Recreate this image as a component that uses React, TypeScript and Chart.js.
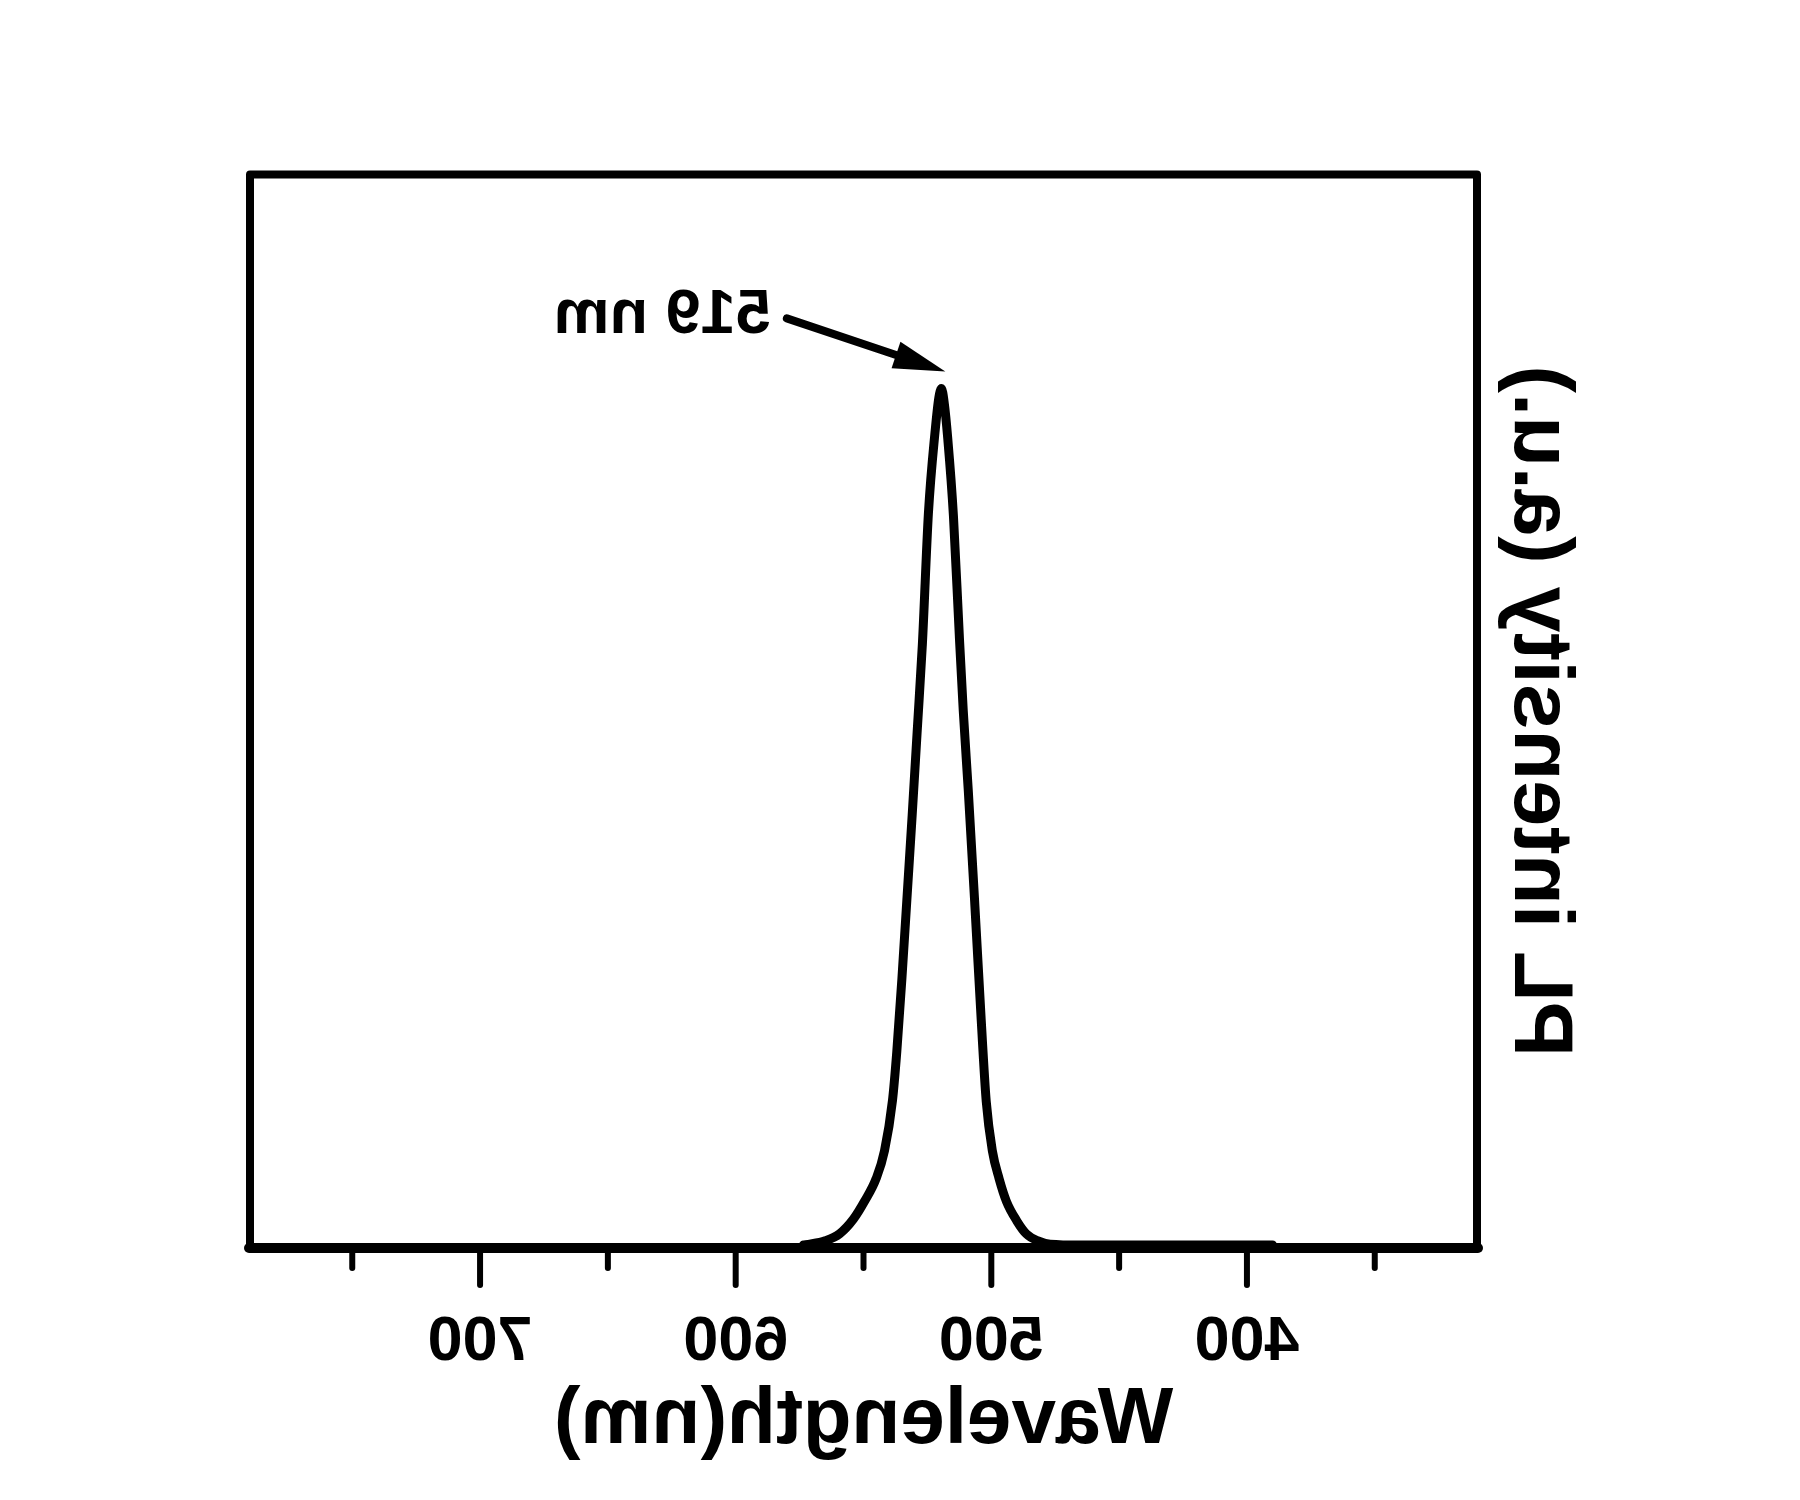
import React, { useEffect, useRef } from "react";
import { Chart, registerables } from "chart.js";

Chart.register(...registerables);

// Spectrum (wavelength in nm, normalised PL intensity)
const wavelengths = [390, 410, 430, 450, 465, 477, 482, 486.3, 490, 494.1, 497, 499.6, 502, 504, 506.5, 509, 511, 512.5, 514.8, 517, 518.5, 519.5, 520.5, 522, 524.6, 527, 529, 531, 533, 535, 537, 538.7, 541.8, 545, 549.6, 554, 559.4, 565, 571, 573.5];
const intensities = [0, 0, 0, 0, 0, 0.001, 0.005, 0.013, 0.028, 0.051, 0.078, 0.11, 0.168, 0.265, 0.4, 0.53, 0.625, 0.71, 0.85, 0.94, 0.985, 1.0, 0.99, 0.95, 0.855, 0.7, 0.6, 0.5, 0.405, 0.31, 0.225, 0.168, 0.11, 0.078, 0.051, 0.03, 0.013, 0.005, 0.001, 0];

const xRange = [310, 790];
const yRange = [-0.0035, 1.25];
const majorTicks = [400, 500, 600, 700];
const minorTicks = [350, 450, 550, 650, 750];

const xTitle = "Wavelength(nm)";
const yTitle = "PL intensity (a.u.)";

const peakLabel = "519 nm";
const peakLabelAt = [628.7, 1.065];
const arrowFrom = [580, 1.082];
const arrowTo = [518, 1.02];

const FONT = '"Liberation Sans", Arial, Helvetica, sans-serif';

const framePlugin = {
  id: "frameAndNotes",
  afterDatasetsDraw(chart: any) {
    const { ctx, chartArea: a, scales } = chart;
    const xs = scales.x;
    const ys = scales.y;
    ctx.save();
    ctx.strokeStyle = "#000";
    ctx.fillStyle = "#000";

    // frame
    ctx.lineWidth = 8;
    ctx.lineJoin = "round";
    ctx.beginPath();
    ctx.moveTo(a.left, a.bottom);
    ctx.lineTo(a.left, a.top);
    ctx.lineTo(a.right, a.top);
    ctx.lineTo(a.right, a.bottom);
    ctx.stroke();
    ctx.lineWidth = 10;
    ctx.lineCap = "round";
    ctx.beginPath();
    ctx.moveTo(a.left - 1, a.bottom);
    ctx.lineTo(a.right + 1, a.bottom);
    ctx.stroke();

    // ticks
    ctx.lineWidth = 6;
    ctx.lineCap = "round";
    majorTicks.forEach((v) => {
      const px = xs.getPixelForValue(v);
      ctx.beginPath();
      ctx.moveTo(px, a.bottom + 4);
      ctx.lineTo(px, a.bottom + 37);
      ctx.stroke();
    });
    minorTicks.forEach((v) => {
      const px = xs.getPixelForValue(v);
      ctx.beginPath();
      ctx.moveTo(px, a.bottom + 4);
      ctx.lineTo(px, a.bottom + 20);
      ctx.stroke();
    });

    // annotation text
    ctx.font = `bold 63px ${FONT}`;
    ctx.textAlign = "center";
    ctx.textBaseline = "alphabetic";
    ctx.fillText(peakLabel, xs.getPixelForValue(peakLabelAt[0]), ys.getPixelForValue(peakLabelAt[1]));

    // arrow
    const x0 = xs.getPixelForValue(arrowFrom[0]);
    const y0 = ys.getPixelForValue(arrowFrom[1]);
    const x1 = xs.getPixelForValue(arrowTo[0]);
    const y1 = ys.getPixelForValue(arrowTo[1]);
    const dx = x1 - x0;
    const dy = y1 - y0;
    const len = Math.hypot(dx, dy);
    const ux = dx / len;
    const uy = dy / len;
    const headLen = 52;
    const headHalf = 14;
    const bx = x1 - ux * headLen;
    const by = y1 - uy * headLen;
    ctx.lineWidth = 8;
    ctx.lineCap = "round";
    ctx.beginPath();
    ctx.moveTo(x0, y0);
    ctx.lineTo(bx + ux * 4, by + uy * 4);
    ctx.stroke();
    ctx.beginPath();
    ctx.moveTo(x1, y1);
    ctx.lineTo(bx - uy * headHalf, by + ux * headHalf);
    ctx.lineTo(bx + uy * headHalf, by - ux * headHalf);
    ctx.closePath();
    ctx.fill();

    ctx.restore();
  },
};

export default function App() {
  const ref = useRef<HTMLCanvasElement | null>(null);

  useEffect(() => {
    if (!ref.current) return;
    const data = wavelengths.map((w, i) => ({ x: w, y: intensities[i] }));
    const chart = new Chart(ref.current, {
      type: "line",
      data: {
        datasets: [
          {
            data,
            borderColor: "#000",
            borderWidth: 9,
            pointRadius: 0,
            fill: false,
            cubicInterpolationMode: "monotone",
            borderJoinStyle: "round",
            borderCapStyle: "round",
          } as any,
        ],
      },
      options: {
        responsive: false,
        animation: false,
        events: [],
        layout: { padding: { left: 0, right: 250, top: 174.5, bottom: 0 } },
        plugins: { legend: { display: false }, tooltip: { enabled: false } },
        scales: {
          x: {
            type: "linear",
            min: xRange[0],
            max: xRange[1],
            grid: { display: false },
            border: { display: false },
            afterBuildTicks: (s: any) => {
              s.ticks = majorTicks.map((v) => ({ value: v }));
            },
            afterFit: (s: any) => {
              s.height = 252;
            },
            ticks: {
              color: "#000",
              padding: 49,
              maxRotation: 0,
              autoSkip: false,
              font: { family: FONT, size: 63, weight: "bold" },
              callback: (v: any) => String(v),
            },
            title: {
              display: true,
              text: xTitle,
              color: "#000",
              font: { family: FONT, size: 80, weight: "bold" },
              padding: { top: 0, bottom: 31 },
            },
          },
          y: {
            type: "linear",
            min: yRange[0],
            max: yRange[1],
            grid: { display: false },
            border: { display: false },
            ticks: { display: false },
            afterFit: (s: any) => {
              s.width = 323;
            },
            title: {
              display: true,
              text: yTitle,
              color: "#000",
              font: { family: FONT, size: 83, weight: "bold" },
              padding: { top: 212, bottom: 0 },
            },
          },
        },
      },
      plugins: [framePlugin],
    });
    return () => chart.destroy();
  }, []);

  return (
    <div
      style={{
        position: "absolute",
        left: 0,
        top: 0,
        width: 1800,
        height: 1500,
        background: "#fff",
        transform: "scaleX(-1)",
      }}
    >
      <canvas ref={ref} width={1800} height={1500} style={{ display: "block" }} />
    </div>
  );
}
